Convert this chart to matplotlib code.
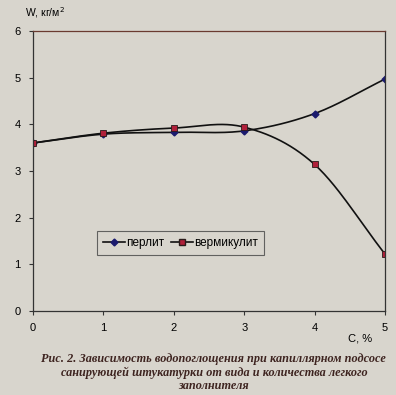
import numpy as np
import matplotlib
matplotlib.use('Agg')
import matplotlib.pyplot as plt

# data
conc = [0, 1, 2, 3, 4, 5]
perlite = [3.60, 3.79, 3.83, 3.86, 4.23, 4.97]
vermiculite = [3.60, 3.81, 3.92, 3.94, 3.14, 1.22]

BG = '#d8d5cd'


def smooth(x, y, n=30):
    # Catmull-Rom curve through the points (Excel-style smoothed line)
    x = np.asarray(x, float)
    y = np.asarray(y, float)
    px = np.concatenate([[2 * x[0] - x[1]], x, [2 * x[-1] - x[-2]]])
    py = np.concatenate([[2 * y[0] - y[1]], y, [2 * y[-1] - y[-2]]])
    xs, ys = [], []
    t = np.linspace(0, 1, n)
    for i in range(1, len(px) - 2):
        for p, out in ((px, xs), (py, ys)):
            p0, p1, p2, p3 = p[i - 1], p[i], p[i + 1], p[i + 2]
            out.extend(0.5 * (2 * p1 + (-p0 + p2) * t
                              + (2 * p0 - 5 * p1 + 4 * p2 - p3) * t ** 2
                              + (-p0 + 3 * p1 - 3 * p2 + p3) * t ** 3))
    return xs, ys


plt.rcParams['font.family'] = ['Liberation Sans', 'DejaVu Sans']

fig = plt.figure(figsize=(3.96, 3.95), dpi=100, facecolor=BG)
ax = fig.add_axes([0.0833, 0.2127, 0.8889, 0.7088])
ax.set_facecolor(BG)

sx, sy = smooth(conc, perlite)
ax.plot(sx, sy, color='#111111', lw=1.2)
ax.plot(conc, perlite, ls='none', marker='D', ms=3.5, color='#1a1a6e')
sx, sy = smooth(conc, vermiculite)
ax.plot(sx, sy, color='#111111', lw=1.2)
ax.plot(conc, vermiculite, ls='none', marker='s', ms=4, mfc='#b0203a', mec='#2a1a1a', mew=0.6)

# legend proxies
ax.plot([], [], color='#111111', marker='D', ms=3.5, mfc='#1a1a6e', mec='#1a1a6e', lw=1.2, label='перлит')
ax.plot([], [], color='#111111', marker='s', ms=4, mfc='#b0203a', mec='#2a1a1a', lw=1.2, label='вермикулит')
handles, labels = ax.get_legend_handles_labels()
leg = ax.legend(handles, labels, loc='center', bbox_to_anchor=(0.42, 0.242), ncol=2,
                fontsize=8.5, frameon=True, fancybox=False, handlelength=1.8,
                handletextpad=0.15, columnspacing=0.6, borderpad=0.5, borderaxespad=0)
leg.get_frame().set_edgecolor('#444444')
leg.get_frame().set_facecolor(BG)
leg.get_frame().set_linewidth(0.8)

ax.set_xlim(0, 5)
ax.set_ylim(0, 6)
ax.set_xticks(conc)
ax.set_yticks(range(7))
ax.tick_params(labelsize=8, length=3, width=0.8, pad=6, color='#333333')
for s in ax.spines.values():
    s.set_color('#333333')
    s.set_linewidth(0.9)
ax.spines['top'].set_color('#6a3a30')

fig.text(0.063, 0.968, 'W, кг/м$^2$', fontsize=7.5, ha='left', va='center')
fig.text(0.94, 0.143, 'С, %', fontsize=8, ha='right', va='center')

caption = ('Рис. 2. Зависимость водопоглощения при капиллярном подсосе\n'
           'санирующей штукатурки от вида и количества легкого\n'
           'заполнителя')
fig.text(0.54, 0.057, caption, fontsize=8.8, ha='center', va='center',
         family=['Liberation Serif', 'DejaVu Serif'], style='italic', weight='bold',
         color='#3e2420', linespacing=1.2)

fig.savefig('out.png', dpi=100, facecolor=BG)
